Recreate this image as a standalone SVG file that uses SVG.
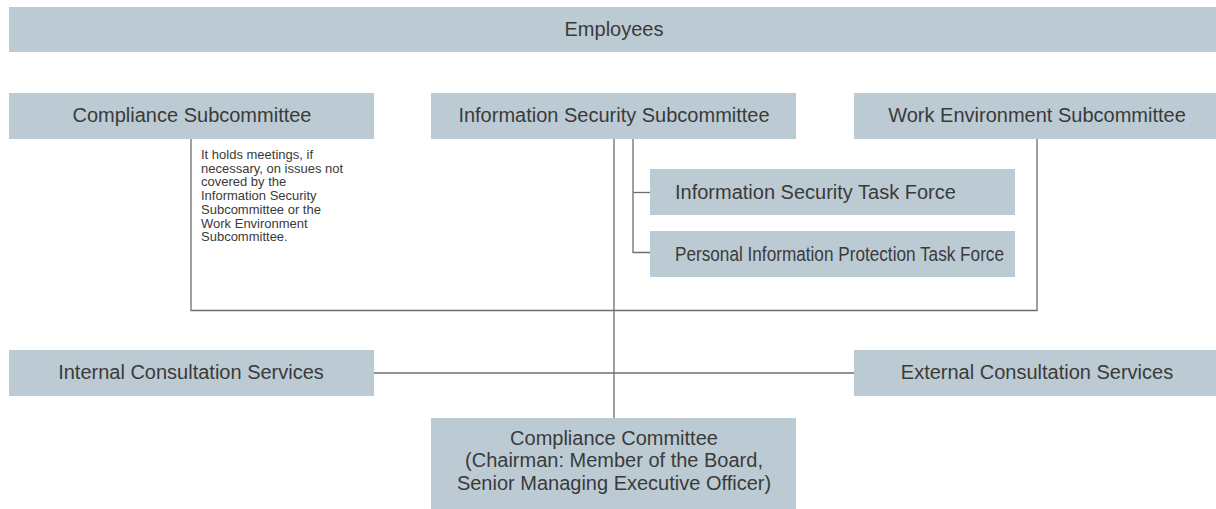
<svg xmlns="http://www.w3.org/2000/svg" width="1216" height="509" viewBox="0 0 1216 509">
  <style>
    .box { fill: #bccbd3; }
    .lbl { font-family: "Liberation Sans", Arial, Helvetica, sans-serif; font-size: 20px; fill: #3a3a3a; }
    .mid { text-anchor: middle; }
    .note { font-family: "Liberation Sans", Arial, Helvetica, sans-serif; font-size: 13px; fill: #3a3a3a; }
    .wire { fill: none; stroke: #6e6e6e; stroke-width: 1.3; }
  </style>

  <!-- connectors -->
  <g id="connectors" class="wire">
    <line x1="614" y1="139" x2="614" y2="418"/>
    <polyline points="191,139 191,310.5 1037,310.5 1037,139"/>
    <line x1="374" y1="373" x2="854" y2="373"/>
    <polyline points="633,139 633,252.5 650,252.5"/>
    <line x1="633" y1="192.5" x2="650" y2="192.5"/>
  </g>

  <g id="employees">
    <rect class="box" x="9" y="7" width="1207" height="45"/>
    <text class="lbl mid" x="614" y="36">Employees</text>
  </g>

  <g id="compliance-subcommittee">
    <rect class="box" x="9" y="93" width="365" height="46"/>
    <text class="lbl mid" x="192" y="122">Compliance Subcommittee</text>
  </g>

  <g id="compliance-note">
    <text class="note" x="201">
      <tspan x="201" y="159">It holds meetings, if</tspan>
      <tspan x="201" y="172.7">necessary, on issues not</tspan>
      <tspan x="201" y="186.4">covered by the</tspan>
      <tspan x="201" y="200.1">Information Security</tspan>
      <tspan x="201" y="213.8">Subcommittee or the</tspan>
      <tspan x="201" y="227.5">Work Environment</tspan>
      <tspan x="201" y="241.2">Subcommittee.</tspan>
    </text>
  </g>

  <g id="infosec-subcommittee">
    <rect class="box" x="431" y="93" width="365" height="46"/>
    <text class="lbl mid" x="614" y="122">Information Security Subcommittee</text>
  </g>

  <g id="work-environment-subcommittee">
    <rect class="box" x="854" y="93" width="362" height="46"/>
    <text class="lbl mid" x="1037" y="122">Work Environment Subcommittee</text>
  </g>

  <g id="infosec-task-force">
    <rect class="box" x="650" y="169" width="365" height="46"/>
    <text class="lbl" x="675" y="198.5">Information Security Task Force</text>
  </g>

  <g id="personal-info-task-force">
    <rect class="box" x="650" y="231" width="365" height="46"/>
    <text class="lbl" x="675" y="260.5" textLength="329" lengthAdjust="spacingAndGlyphs">Personal Information Protection Task Force</text>
  </g>

  <g id="internal-consultation">
    <rect class="box" x="9" y="350" width="365" height="46"/>
    <text class="lbl mid" x="191" y="379">Internal Consultation Services</text>
  </g>

  <g id="external-consultation">
    <rect class="box" x="854" y="350" width="362" height="46"/>
    <text class="lbl mid" x="1037" y="379">External Consultation Services</text>
  </g>

  <g id="compliance-committee">
    <rect class="box" x="431" y="418" width="365" height="91"/>
    <text class="lbl mid" x="614" y="444.5">Compliance Committee</text>
    <text class="lbl mid" x="614" y="467">(Chairman: Member of the Board,</text>
    <text class="lbl mid" x="614" y="489.5">Senior Managing Executive Officer)</text>
  </g>
</svg>
